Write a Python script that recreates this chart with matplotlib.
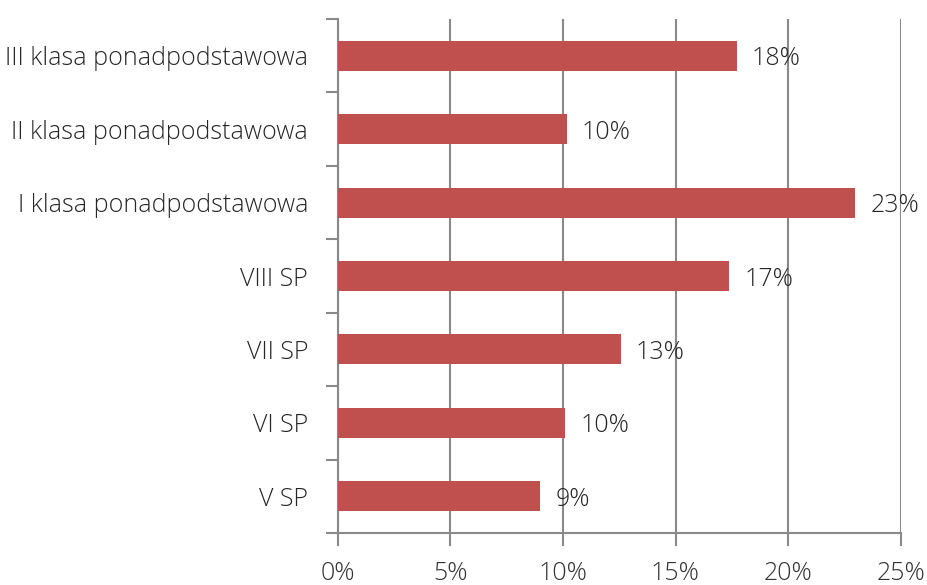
import numpy as np
import matplotlib.pyplot as plt
from matplotlib.ticker import FixedLocator

categories = ['V SP', 'VI SP', 'VII SP', 'VIII SP',
              'I klasa ponadpodstawowa', 'II klasa ponadpodstawowa',
              'III klasa ponadpodstawowa']
shares = [8.99, 10.09, 12.56, 17.39, 22.98, 10.16, 17.72]
xticks = [0, 5, 10, 15, 20, 25]

plt.rcParams['font.family'] = ['Open Sans', 'DejaVu Sans']

grey = '#898989'
fig = plt.figure(figsize=(9.28, 5.85), dpi=100)
ax = fig.add_axes([338 / 928, 52 / 585, 562.5 / 928, 514 / 585])

y = np.arange(len(categories))
ax.barh(y, shares, height=0.41, color='#C0504D', zorder=3)

for yi, v in zip(y, shares):
    ax.text(v + 0.68, yi, '{:.0f}%'.format(v), va='center_baseline', ha='left',
            fontsize=18, fontweight='light', color='#262626', zorder=4)

ax.set_xlim(0, 25)
ax.set_ylim(-0.5, len(categories) - 0.5)
ax.set_xticks(xticks)
ax.set_xticklabels(['{}%'.format(t) for t in xticks])
ax.set_yticks(y)
ax.set_yticklabels(categories)
ax.yaxis.set_minor_locator(FixedLocator(np.arange(-0.5, len(categories), 1.0)))

ax.tick_params(axis='y', which='major', length=0, pad=21.5, labelsize=18,
               labelcolor='#262626')
ax.tick_params(axis='y', which='minor', length=9, width=1.5, color=grey,
               direction='out')
ax.tick_params(axis='x', length=9, width=1.5, color=grey, direction='out',
               pad=11, labelsize=18, labelcolor='#333333')
for lbl in ax.get_xticklabels() + ax.get_yticklabels():
    lbl.set_fontweight('light')

ax.grid(axis='x', color=grey, linewidth=1.5, zorder=0)
for side in ['top', 'right']:
    ax.spines[side].set_visible(False)
for side in ['left', 'bottom']:
    ax.spines[side].set_color(grey)
    ax.spines[side].set_linewidth(1.5)

fig.savefig('out.png', dpi=100)
